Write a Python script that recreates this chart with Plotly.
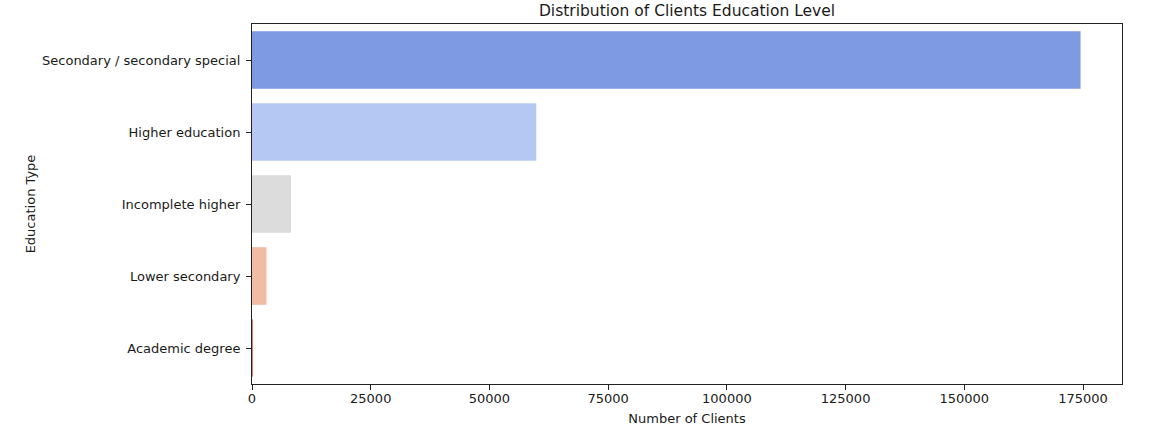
import plotly.graph_objects as go

categories = ["Secondary / secondary special", "Higher education", "Incomplete higher",
              "Lower secondary", "Academic degree"]
counts = [174480, 59870, 8210, 3050, 130]
colors = ["#7e9ae3", "#b4c8f3", "#dcdcdc", "#efbca5", "#d8806b"]
x_ticks = [0, 25000, 50000, 75000, 100000, 125000, 150000, 175000]

W, H = 1173, 430
L, R, T, B = 252, 51, 24, 46

fig = go.Figure(go.Bar(
    x=counts, y=categories, orientation="h",
    marker=dict(color=colors, line=dict(width=0)),
    width=0.8,
))

fig.update_layout(
    width=W, height=H,
    margin=dict(l=L, r=R, t=T, b=B),
    paper_bgcolor="white", plot_bgcolor="white",
    font=dict(family="DejaVu Sans", size=13, color="#1a1a1a"),
    title=dict(text="Distribution of Clients Education Level",
               x=(L + (W - R)) / 2 / W, xanchor="center",
               y=1 - 11 / H, yanchor="middle", yref="container",
               font=dict(size=15.5, color="#1a1a1a")),
    showlegend=False,
)
fig.update_xaxes(
    range=[0, max(counts) * 1.05],
    tickvals=x_ticks, ticktext=[str(v) for v in x_ticks],
    ticks="outside", ticklen=5, tickwidth=1, tickcolor="#222",
    showline=True, linecolor="#222", linewidth=1, mirror=True,
    showgrid=False, zeroline=False, automargin=False,
    ticklabelstandoff=-3,
    title=dict(text="Number of Clients", standoff=9, font=dict(size=13)),
)
fig.update_yaxes(
    categoryorder="array", categoryarray=categories,
    range=[4.5, -0.5],
    ticks="outside", ticklen=5, tickwidth=1, tickcolor="#222",
    showline=True, linecolor="#222", linewidth=1, mirror=True,
    showgrid=False, zeroline=False, automargin=False,
    ticklabelstandoff=3,
    title=dict(text="Education Type", standoff=3, font=dict(size=13)),
)

fig.write_html("out.html",
               config={"displayModeBar": False},
               post_script="document.body.style.margin='0';")
